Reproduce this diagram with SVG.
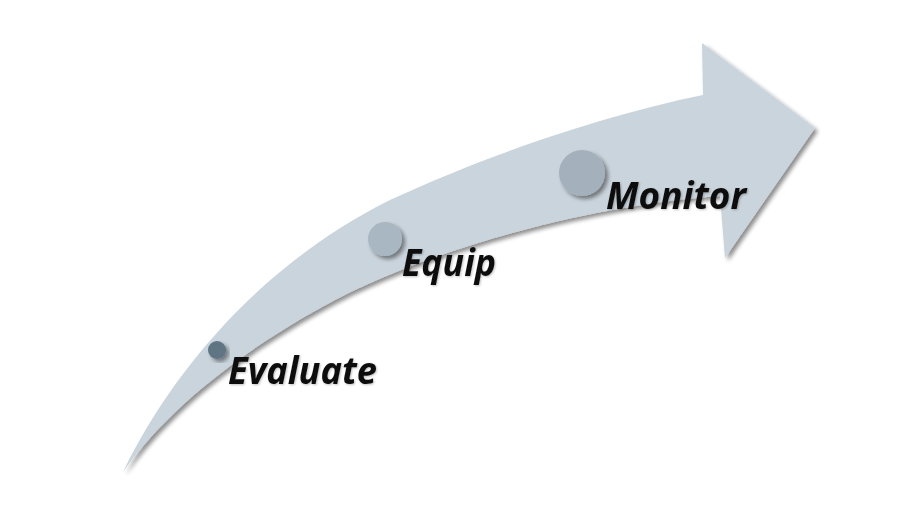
<svg xmlns="http://www.w3.org/2000/svg" width="923" height="525" viewBox="0 0 923 525">
<defs>
<filter id="sh" x="-20%" y="-20%" width="140%" height="140%">
<feGaussianBlur in="SourceAlpha" stdDeviation="2"/>
<feOffset dx="3" dy="3"/>
<feComponentTransfer><feFuncA type="linear" slope="0.45"/></feComponentTransfer>
<feMerge><feMergeNode/><feMergeNode in="SourceGraphic"/></feMerge>
</filter>
<filter id="tsh" x="-10%" y="-20%" width="120%" height="140%">
<feGaussianBlur in="SourceAlpha" stdDeviation="0.8"/>
<feOffset dx="1" dy="1"/>
<feComponentTransfer><feFuncA type="linear" slope="0.25"/></feComponentTransfer>
<feMerge><feMergeNode/><feMergeNode in="SourceGraphic"/></feMerge>
</filter>
</defs>
<style>
.lbl{font-family:"Open Sans","Liberation Sans",sans-serif;font-weight:bold;font-style:italic;font-size:37px;fill:#111;}
</style>
<rect width="923" height="525" fill="#ffffff"/>
<g id="arrow" filter="url(#sh)">
<path d="M123,472 C165,385 250,270 390,200 C480,158 600,116 703,95 L702,43 L815,128 L725,258 L720,196 C600,204 440,245 335,300 C250,345 170,405 123,472 Z" fill="#cad4dc"/>
</g>
<g id="evaluate">
<circle cx="217" cy="350" r="9" fill="#5f7483" filter="url(#sh)"/>
<text class="lbl" x="228" y="384" textLength="149" lengthAdjust="spacingAndGlyphs" filter="url(#tsh)">Evaluate</text>
</g>
<g id="equip">
<circle cx="385" cy="239" r="17" fill="#a9b7c3" filter="url(#sh)"/>
<text class="lbl" x="402" y="276" textLength="94" lengthAdjust="spacingAndGlyphs" filter="url(#tsh)">Equip</text>
</g>
<g id="monitor">
<circle cx="582" cy="173" r="23" fill="#a4b1bc" filter="url(#sh)"/>
<text class="lbl" x="606" y="209" textLength="140" lengthAdjust="spacingAndGlyphs" filter="url(#tsh)">Monitor</text>
</g>
<g id="connectors"></g>
</svg>
